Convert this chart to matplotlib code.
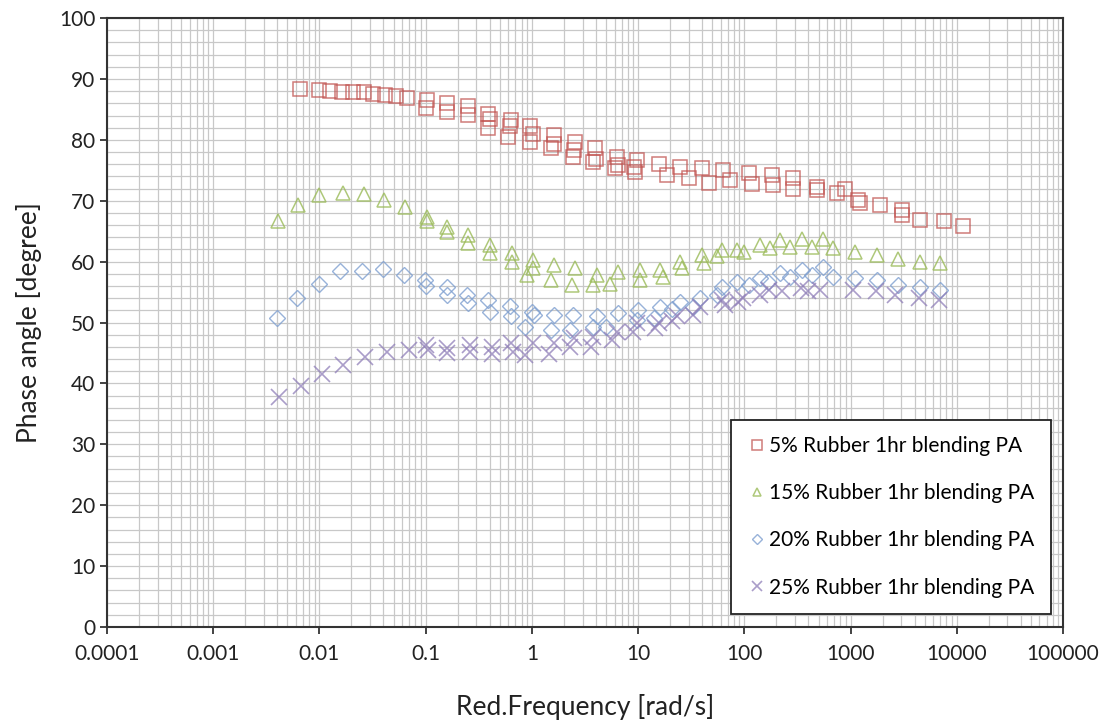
# phase angle vs reduced frequency, PA rubber blends
import numpy as np
import matplotlib.pyplot as plt
from matplotlib.ticker import FixedLocator, LogLocator, NullFormatter

plt.rcParams['font.family'] = ['Lato', 'DejaVu Sans']

# 5% rubber (squares)
x5 = [0.0066, 0.01, 0.0125, 0.0162, 0.0207, 0.026, 0.0322, 0.0414, 0.053, 0.067,
      0.102, 0.1, 0.158, 0.16, 0.25, 0.25, 0.39, 0.40, 0.39,
      0.64, 0.62, 0.60, 0.96, 1.03, 0.96, 1.6, 1.6, 1.5,
      2.55, 2.5, 2.45, 3.9, 4.0, 3.8, 6.3, 6.5, 6.0, 9.1, 9.8, 9.4,
      15.6, 18.6, 24.8, 30, 39.7, 46, 63, 73, 111, 117, 183, 188,
      290, 290, 482, 482, 740, 890, 1170, 1230, 1900, 3040, 3040, 4520, 7500, 11560]
y5 = [88.4, 88.2, 88.1, 87.9, 87.9, 87.8, 87.6, 87.4, 87.2, 86.8,
      86.6, 85.2, 86.0, 84.6, 85.5, 84.1, 84.3, 83.5, 81.9,
      83.3, 82.2, 80.5, 82.2, 81.0, 79.7, 80.8, 79.4, 78.6,
      79.7, 78.3, 77.2, 78.6, 76.9, 76.4, 77.2, 75.9, 75.3, 75.6, 76.7, 74.8,
      76.1, 74.2, 75.6, 73.7, 75.3, 72.9, 75.0, 73.4, 74.5, 72.8, 74.2, 72.6,
      73.7, 72.0, 72.3, 71.7, 71.2, 72.0, 70.1, 69.6, 69.3, 68.5, 67.6, 66.8, 66.6, 65.9]

# 15% rubber (triangles)
x15 = [0.0041, 0.0063, 0.01, 0.0166, 0.026, 0.0405, 0.064, 0.102, 0.102,
       0.16, 0.16, 0.25, 0.25, 0.40, 0.40, 0.65, 0.65, 1.03, 1.03, 0.9,
       1.6, 1.5, 2.55, 2.4, 4.08, 3.8, 6.5, 5.45, 10.4, 10.4, 16, 17,
       24.8, 26, 39.7, 42, 61, 55, 86, 100, 141, 176, 217, 268, 348, 430,
       556, 690, 1100, 1770, 2790, 4460, 6980]
y15 = [66.6, 69.3, 70.9, 71.3, 71.1, 70.1, 68.9, 67.3, 66.6,
       65.7, 64.9, 64.4, 63.0, 62.7, 61.4, 61.4, 60.0, 60.3, 58.9, 57.8,
       59.4, 57.0, 58.9, 56.2, 57.8, 56.2, 58.3, 56.4, 58.6, 57.0, 58.6, 57.5,
       60.0, 58.9, 61.1, 59.7, 61.9, 60.9, 61.9, 61.6, 62.7, 62.2, 63.5, 62.4, 63.8, 62.4,
       63.8, 62.2, 61.6, 61.1, 60.5, 60.0, 59.7]

# 20% rubber (diamonds)
x20 = [0.0040, 0.0062, 0.0098, 0.0156, 0.025, 0.040, 0.063, 0.098, 0.10,
       0.158, 0.158, 0.247, 0.25, 0.39, 0.40, 0.62, 0.64, 1.0, 0.86, 1.05,
       1.6, 1.5, 2.45, 2.3, 4.1, 3.8, 6.5, 5.0, 10, 9.7, 16, 14,
       24.8, 21, 38, 33, 61, 55, 86, 111, 141, 167, 217, 270, 348, 430,
       556, 690, 1100, 1770, 2790, 4460, 6980]
y20 = [50.7, 54.0, 56.4, 58.4, 58.5, 58.8, 57.8, 57.0, 56.0,
       55.9, 54.5, 54.5, 53.2, 53.7, 51.8, 52.7, 51.0, 51.8, 49.3, 51.2,
       51.2, 48.8, 51.2, 48.8, 51.0, 49.3, 51.5, 49.3, 52.1, 50.4, 52.6, 50.7,
       53.4, 52.3, 54.0, 52.6, 55.9, 54.5, 56.7, 56.2, 57.3, 56.7, 58.1, 57.5, 58.6, 57.8,
       59.2, 57.5, 57.3, 57.0, 56.2, 55.9, 55.3]

# 25% rubber (crosses)
x25 = [0.0042, 0.0067, 0.0105, 0.0168, 0.027, 0.043, 0.069, 0.106, 0.10,
       0.16, 0.16, 0.26, 0.26, 0.42, 0.42, 0.64, 0.66, 0.86, 1.03,
       1.6, 1.45, 2.5, 2.3, 3.8, 3.6, 6.3, 5.7, 9.7, 9.0, 15.6, 14.5,
       23, 21, 38, 33, 61, 66, 98, 88, 141, 170, 224, 338, 400, 520,
       1050, 1730, 2600, 4400, 6800]
y25 = [37.8, 39.6, 41.5, 43.0, 44.4, 45.1, 45.5, 45.5, 46.3,
       45.8, 45.0, 46.3, 45.2, 46.0, 44.9, 46.6, 45.2, 44.7, 46.6,
       46.6, 44.9, 47.4, 46.0, 47.7, 46.0, 48.5, 47.1, 49.9, 48.5, 49.9, 49.1,
       51.0, 50.3, 52.6, 51.3, 53.7, 52.9, 54.0, 53.3, 54.5, 55.3, 55.1, 55.6, 55.1, 55.3,
       55.3, 55.1, 54.5, 54.0, 53.7]

labels = ['5% Rubber 1hr blending PA', '15% Rubber 1hr blending PA',
          '20% Rubber 1hr blending PA', '25% Rubber 1hr blending PA']

fig = plt.figure(figsize=(11.01, 7.24), dpi=100)
ax = fig.add_axes([0.0972, 0.134, 0.8683, 0.841])

ax.plot(x5, y5, 's', ms=10.5, mfc='none', mec='#C0504D', mew=1.1, alpha=0.75, label=labels[0])
ax.plot(x15, y15, '^', ms=9.5, mfc='none', mec='#9BBB59', mew=1.1, alpha=0.8, label=labels[1])
ax.plot(x20, y20, 'D', ms=8, mfc='none', mec='#7E9FD0', mew=1.0, alpha=0.8, label=labels[2])
ax.plot(x25, y25, 'x', ms=11, mec='#8E7DB8', mew=1.2, alpha=0.75, label=labels[3])

ax.set_xscale('log')
ax.set_xlim(1e-4, 1e5)
ax.set_ylim(0, 100)
ax.set_yticks(np.arange(0, 101, 10))
ax.yaxis.set_minor_locator(FixedLocator(np.arange(0, 101, 2)))
ax.xaxis.set_major_locator(LogLocator(base=10, numticks=20))
ax.xaxis.set_minor_locator(LogLocator(base=10, subs=np.arange(2, 10), numticks=20))
ax.xaxis.set_minor_formatter(NullFormatter())
ax.set_xticks([1e-4, 1e-3, 1e-2, 1e-1, 1, 10, 100, 1000, 10000, 100000])
ax.set_xticklabels(['0.0001', '0.001', '0.01', '0.1', '1', '10', '100', '1000', '10000', '100000'])

ax.grid(which='both', color='#C8C8C8', lw=0.9)
ax.set_axisbelow(True)
ax.tick_params(which='major', length=5, width=1.2, labelsize=15, colors='#222222')
ax.tick_params(which='minor', length=0)
ax.tick_params(axis='x', pad=7)
for s in ax.spines.values():
    s.set_linewidth(1.5)
    s.set_color('#333333')

ax.set_xlabel('Red.Frequency [rad/s]', fontsize=19, labelpad=22, color='#222222')
ax.set_ylabel('Phase angle [degree]', fontsize=19, labelpad=12, color='#222222')

leg = ax.legend(loc='lower right', bbox_to_anchor=(0.987, 0.021), borderaxespad=0,
                fontsize=15, markerscale=0.65, handletextpad=0.1, handlelength=0.9,
                labelspacing=1.3, borderpad=0.8, fancybox=False, framealpha=1)
leg.get_frame().set_edgecolor('#222222')
leg.get_frame().set_linewidth(1.3)

fig.savefig('out.png', dpi=100)
